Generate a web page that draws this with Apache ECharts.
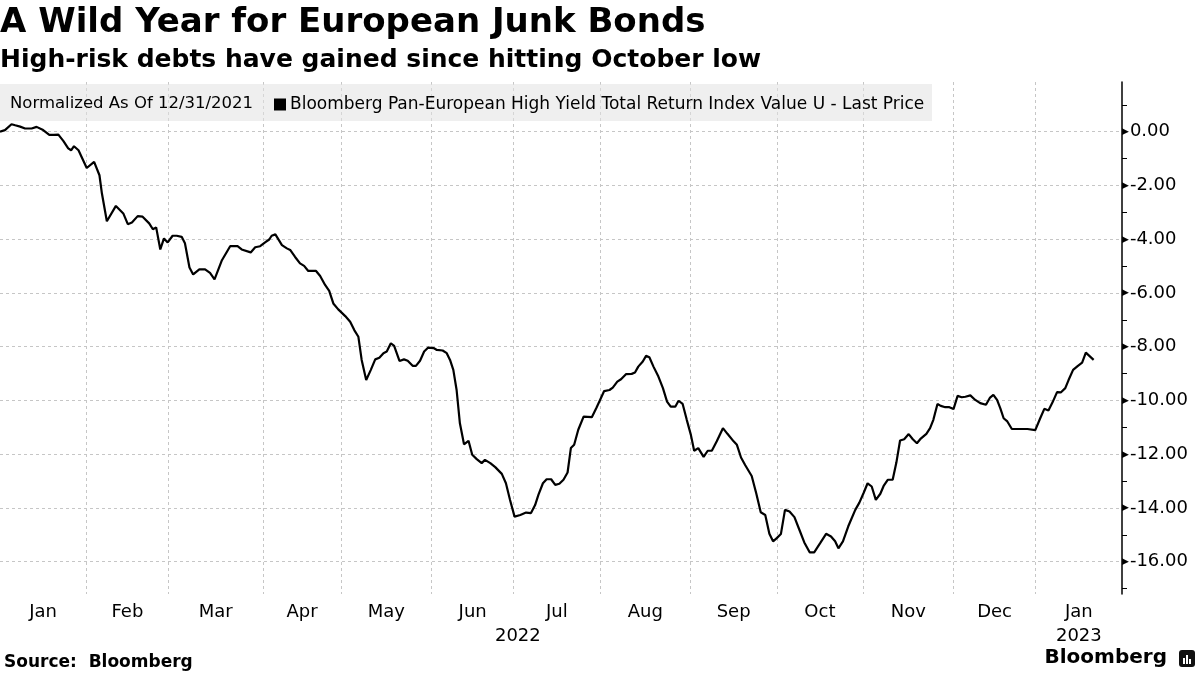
<!DOCTYPE html>
<html><head><meta charset="utf-8">
<script src="https://cdn.jsdelivr.net/npm/echarts@6/dist/echarts.min.js"></script>
<style>html,body{margin:0;padding:0;background:#fff}#c{width:1200px;height:675px}</style>
</head><body><div id="c"></div>
<script>
// x = trading-day index (0 = 31 Dec 2021), value = % change since 12/31/2021
const tradingDay = [0,1.2,2.8,3.7,4.9,6.1,7.7,8.9,10.5,12.0,13.1,14.2,15.4,16.6,17.3,18.0,19.1,21.1,22.9,24.2,24.8,26.0,28.2,30.0,31.1,32.1,33.5,34.7,36.3,37.2,38.0,39.0,39.9,40.8,42.0,43.0,44.2,45.0,46.1,47.0,48.5,49.9,51.1,52.2,54.0,56.0,57.8,58.8,61.0,62.1,63.3,64.5,65.5,66.1,67.0,68.6,69.8,70.6,71.8,73.0,74.0,75.0,76.9,77.9,79.1,80.1,81.1,82.3,84.0,85.2,86.2,87.2,88.0,89.1,90.2,91.3,92.3,93.3,94.1,95.1,95.9,97.2,98.3,99.2,100.4,101.2,102.2,103.2,104.2,105.5,106.3,107.7,108.7,109.5,110.3,111.1,111.9,112.9,114.0,114.9,116.0,117.2,118.0,119.3,120.5,122.1,123.1,124.1,125.2,126.6,128.0,129.2,130.2,131.0,132.1,133.0,134.1,135.1,136.1,137.1,138.1,138.9,139.7,140.7,142.0,144.0,145.1,146.0,147.0,148.3,149.1,150.2,151.1,152.3,153.7,154.5,155.3,156.4,157.2,158.0,159.0,160.2,161.3,162.3,163.2,164.3,165.1,166.1,167.1,168.1,168.9,169.9,171.2,172.2,173.2,174.4,175.9,177.0,178.5,179.3,180.3,181.3,182.9,184.0,185.1,186.2,187.2,188.1,189.0,190.0,191.0,192.1,193.3,194.5,195.7,197.0,198.1,199.6,201.0,202.2,203.2,204.0,205.1,206.4,208.1,209.1,210.1,211.1,212.1,213.1,214.2,215.0,216.0,217.2,218.1,219.0,220.0,221.1,222.1,223.1,223.9,225.4,226.3,227.1,228.1,228.9,230.0,231.0,232.0,233.0,234.0,234.9,236.1,237.3,238.5,239.9,240.9,241.7,242.6,243.4,244.2,245.1,246.2,248.2,250.0,251.9,253.1,254.1,255.1,256.1,257.2,258.1,259.2,260.0,261.1,262.2,263.3,264.2,266.1];
const indexValue = [0.00,0.06,0.28,0.24,0.19,0.12,0.12,0.18,0.06,-0.12,-0.12,-0.11,-0.34,-0.62,-0.69,-0.54,-0.69,-1.35,-1.12,-1.62,-2.30,-3.33,-2.76,-3.04,-3.44,-3.38,-3.14,-3.16,-3.41,-3.63,-3.56,-4.38,-3.97,-4.12,-3.87,-3.87,-3.91,-4.15,-5.05,-5.31,-5.12,-5.12,-5.25,-5.49,-4.78,-4.26,-4.26,-4.38,-4.49,-4.30,-4.26,-4.12,-4.01,-3.87,-3.82,-4.22,-4.34,-4.40,-4.66,-4.90,-4.99,-5.18,-5.18,-5.37,-5.70,-5.92,-6.39,-6.61,-6.86,-7.07,-7.38,-7.63,-8.49,-9.24,-8.87,-8.47,-8.41,-8.24,-8.18,-7.87,-7.97,-8.53,-8.47,-8.52,-8.71,-8.71,-8.52,-8.18,-8.03,-8.05,-8.12,-8.14,-8.24,-8.49,-8.86,-9.61,-10.85,-11.63,-11.50,-12.02,-12.18,-12.33,-12.21,-12.33,-12.48,-12.73,-13.08,-13.70,-14.32,-14.26,-14.17,-14.19,-13.89,-13.51,-13.08,-12.93,-12.93,-13.14,-13.10,-12.95,-12.68,-11.77,-11.65,-11.09,-10.60,-10.62,-10.28,-9.98,-9.65,-9.61,-9.52,-9.30,-9.21,-9.02,-9.01,-8.96,-8.74,-8.55,-8.34,-8.39,-8.74,-9.11,-9.54,-10.04,-10.23,-10.23,-10.01,-10.13,-10.72,-11.28,-11.87,-11.77,-12.10,-11.87,-11.87,-11.52,-11.03,-11.24,-11.52,-11.65,-12.12,-12.40,-12.81,-13.45,-14.16,-14.26,-14.96,-15.24,-15.12,-14.97,-14.07,-14.13,-14.34,-14.81,-15.28,-15.65,-15.65,-15.30,-14.96,-15.06,-15.24,-15.50,-15.24,-14.68,-14.07,-13.80,-13.45,-13.08,-13.20,-13.70,-13.47,-13.18,-12.95,-12.95,-12.31,-11.49,-11.44,-11.25,-11.44,-11.59,-11.44,-11.24,-11.03,-10.72,-10.13,-10.20,-10.25,-10.25,-10.32,-9.83,-9.88,-9.86,-9.81,-9.98,-10.10,-10.16,-9.89,-9.79,-9.98,-10.29,-10.66,-10.78,-11.06,-11.06,-11.06,-11.10,-10.66,-10.31,-10.37,-10.07,-9.69,-9.70,-9.54,-9.24,-8.86,-8.72,-8.59,-8.22,-8.49];

const monthNames = ['Jan','Feb','Mar','Apr','May','Jun','Jul','Aug','Sep','Oct','Nov','Dec','Jan'];
// trading-day index of each month boundary (axis start, month starts, axis end)
const monthBounds = [0,21,41,64,83,105,125,146,168,189,210,232,252,273];
const yearLabels = ['2022','2023'];
const yearPos = [126,262.5];
const yMajorTicks = [0,-2,-4,-6,-8,-10,-12,-14,-16];
const yMinorTicks = [1,-1,-3,-5,-7,-9,-11,-13,-15,-17];
const seriesName = 'Bloomberg Pan-European High Yield Total Return Index Value U - Last Price';

const FONT = 'DejaVu Sans';
const gridColor = '#c6c6c6';

const labelMap = {};
const labelVals = [];
for (let i = 0; i < monthNames.length; i++) {
  const c = (monthBounds[i] + monthBounds[i + 1]) / 2;
  labelMap[String(c)] = monthNames[i];
  labelVals.push(c);
}
yearPos.forEach((p, i) => {
  const k = String(p);
  if (labelMap[k]) labelMap[k] = labelMap[k] + '\n' + yearLabels[i];
  else { labelMap[k] = '\n' + yearLabels[i]; labelVals.push(p); }
});
labelVals.sort((a, b) => a - b);

const chart = echarts.init(document.getElementById('c'), null, {renderer: 'canvas'});
chart.setOption({
  animation: false,
  backgroundColor: '#fff',
  textStyle: {fontFamily: FONT},
  title: [
    {text: 'A Wild Year for European Junk Bonds', left: 0, top: 6, padding: 0,
     textStyle: {fontFamily: FONT, fontSize: 34, fontWeight: 'bold', color: '#000'}},
    {text: 'High-risk debts have gained since hitting October low', left: 0, top: 48, padding: 0,
     textStyle: {fontFamily: FONT, fontSize: 25, fontWeight: 'bold', color: '#000'}},
    {text: 'Normalized As Of 12/31/2021', left: 10, top: 95, padding: 0,
     textStyle: {fontFamily: FONT, fontSize: 16.5, fontWeight: 'normal', color: '#000'}},
    {text: 'Source:  Bloomberg', left: 4, top: 654, padding: 0,
     textStyle: {fontFamily: FONT, fontSize: 17, fontWeight: 'bold', color: '#000'}},
    {text: 'Bloomberg', right: 33, top: 648, padding: 0,
     textStyle: {fontFamily: FONT, fontSize: 20, fontWeight: 'bold', color: '#000'}}
  ],
  legend: {
    left: 274, top: 96, padding: 0, icon: 'rect', itemWidth: 12, itemHeight: 12,
    selectedMode: false, data: [seriesName],
    textStyle: {fontFamily: FONT, fontSize: 17, color: '#000', padding: [0, 0, 0, -1]}
  },
  graphic: [
    {type: 'rect', left: 0, top: 84, z: 1, silent: true,
     shape: {width: 932, height: 37}, style: {fill: 'rgba(225,225,225,0.55)'}},
    {type: 'group', right: 5, top: 650, children: [
      {type: 'rect', shape: {x: 0, y: 0, width: 16, height: 17, r: 3}, style: {fill: '#111'}},
      {type: 'rect', shape: {x: 4, y: 8, width: 2, height: 6}, style: {fill: '#fff'}},
      {type: 'rect', shape: {x: 7, y: 5, width: 2, height: 9}, style: {fill: '#fff'}},
      {type: 'rect', shape: {x: 10, y: 9, width: 2, height: 5}, style: {fill: '#fff'}}
    ]}
  ],
  grid: {left: 0, right: 78, top: 82, bottom: 81, containLabel: false},
  xAxis: {
    type: 'value', min: monthBounds[0], max: monthBounds[monthBounds.length - 1],
    axisLine: {show: false},
    axisTick: {show: false, customValues: monthBounds.slice(1, -1)},
    splitLine: {show: true, lineStyle: {color: gridColor, type: [3, 3], width: 1}},
    axisLabel: {
      customValues: labelVals,
      formatter: v => labelMap[String(v)] || '',
      fontFamily: FONT, fontSize: 18, color: '#000', margin: 6, lineHeight: 24
    }
  },
  yAxis: [
    {
      type: 'value', position: 'right', min: -17.2, max: 1.85,
      axisLine: {show: true, onZero: false, lineStyle: {color: '#000', width: 1.5}},
      axisTick: {show: false, customValues: yMajorTicks},
      splitLine: {show: true, lineStyle: {color: gridColor, type: [3, 3], width: 1}},
      axisLabel: {
        customValues: yMajorTicks, margin: 0,
        formatter: v => '{t|\u25B6}{n|' + v.toFixed(2) + '}',
        rich: {
          t: {fontSize: 9, color: '#000', padding: [0, 1, 0, 0], fontFamily: FONT},
          n: {fontSize: 18, color: '#000', fontFamily: FONT}
        }
      }
    },
    {
      type: 'value', position: 'right', min: -17.2, max: 1.85,
      axisLine: {show: false, onZero: false},
      axisTick: {show: true, customValues: yMinorTicks, length: 5, lineStyle: {color: '#000', width: 1}},
      axisLabel: {show: false},
      splitLine: {show: false}
    }
  ],
  series: [{
    name: seriesName, type: 'line', yAxisIndex: 0,
    data: tradingDay.map((d, i) => [d, indexValue[i]]),
    showSymbol: false, symbol: 'none',
    lineStyle: {color: '#000', width: 2.2},
    itemStyle: {color: '#000'},
    z: 5
  }]
});
</script></body></html>
